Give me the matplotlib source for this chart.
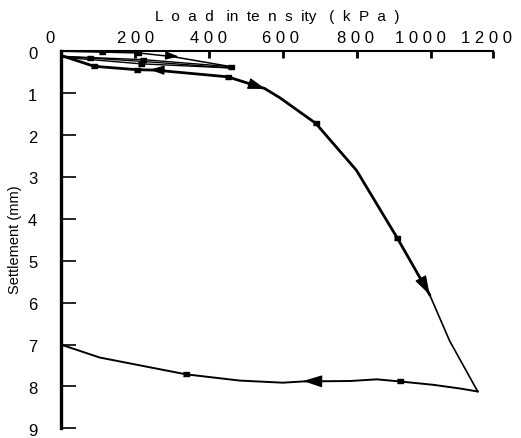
import matplotlib
matplotlib.use("Agg")
import matplotlib.pyplot as plt
import matplotlib.transforms as mtransforms

plt.rcParams['font.family'] = ['Liberation Sans', 'DejaVu Sans']

# ---- data (load kPa, settlement mm) ----
load_1 = [0, 110, 209, 303, 461]
sett_1 = [0.0, 0.02, 0.04, 0.13, 0.37]
unload_1 = [461, 222, 78, 0]
usett_1 = [0.37, 0.20, 0.15, 0.12]
load_2 = [0, 216, 461]
sett_2 = [0.12, 0.24, 0.40]
unload_2 = [461, 216, 0]
usett_2 = [0.40, 0.30, 0.14]
load_3 = [0, 90, 205, 254, 451, 551, 592, 654, 689, 799, 909, 997]
sett_3 = [0.10, 0.36, 0.44, 0.45, 0.61, 0.89, 1.11, 1.50, 1.72, 2.84, 4.45, 5.81]
load_4 = [997, 1051, 1127]
sett_4 = [5.81, 6.91, 8.12]
unload_f = [1127, 1080, 1006, 916, 854, 781, 655, 600, 484, 338, 105, 0]
usett_f = [8.12, 8.05, 7.96, 7.88, 7.83, 7.87, 7.88, 7.91, 7.86, 7.71, 7.31, 7.0]

marker_load = [110, 209, 78, 222, 90, 216, 205, 461, 451, 689, 909, 916, 338]
marker_sett = [0.02, 0.04, 0.15, 0.20, 0.36, 0.30, 0.44, 0.37, 0.61, 1.72, 4.45, 7.88, 7.71]

# arrows: (tail load, tail settlement) -> (tip load, tip settlement)
arrow_tail = [(280, 0.10), (280, 0.452), (515, 0.79), (975, 5.45), (720, 7.88)]
arrow_tip = [(318, 0.125), (240, 0.44), (553, 0.90), (997, 5.81), (655, 7.87)]

x_ticks = [0, 200, 400, 600, 800, 1000, 1168]
x_ticklabels = ["0", "2 0 0", "4 0 0", "6 0 0", "8 0 0", "1 0 0 0", "1 2 0 0"]
y_ticks = [0, 1, 2, 3, 4, 5, 6, 7, 8, 9]

fig = plt.figure(figsize=(5.21, 4.38), dpi=100)
ax = fig.add_axes([0.117, 0.022, 0.829, 0.861])

k = 'black'
ax.plot(load_1, sett_1, color=k, lw=1.1)
ax.plot(unload_1, usett_1, color=k, lw=1.0)
ax.plot(load_2, sett_2, color=k, lw=1.0)
ax.plot(unload_2, usett_2, color=k, lw=1.0)
ax.plot(load_3, sett_3, color=k, lw=2.0)
ax.plot(load_4, sett_4, color=k, lw=1.2)
ax.plot(unload_f, usett_f, color=k, lw=1.4)
rect = [(-1, -0.62), (1, -0.62), (1, 0.62), (-1, 0.62)]
ax.plot(marker_load, marker_sett, linestyle='none', marker=rect, color=k,
        markersize=5)

arrow_scale = [8, 9, 11, 12, 12]
for (tx, ty), (hx, hy), ms in zip(arrow_tail, arrow_tip, arrow_scale):
    ax.annotate('', xy=(hx, hy), xytext=(tx, ty),
                arrowprops=dict(arrowstyle='-|>,head_length=1.0,head_width=0.32',
                                mutation_scale=ms, color=k, lw=0.8,
                                shrinkA=0, shrinkB=0))

ax.set_xlim(0, 1168)
ax.set_ylim(9, 0)
ax.xaxis.tick_top()
ax.xaxis.set_label_position('top')
ax.set_xticks(x_ticks)
ax.set_xticklabels(x_ticklabels, fontsize=12)
ax.set_yticks(y_ticks)
ax.set_yticklabels([str(v) for v in y_ticks], fontsize=12)
ax.tick_params(axis='x', direction='in', length=5, width=2, pad=4)
ax.tick_params(axis='y', direction='in', length=11, width=1.2, pad=17)

# nudge x tick labels (pixels) to match the reference placement
label_shift_px = [-11, 1, 0, -2, -1, -10, -6]
for lab, dx in zip(ax.get_xticklabels(), label_shift_px):
    off = mtransforms.ScaledTranslation(dx / 100.0, 0, fig.dpi_scale_trans)
    lab.set_transform(lab.get_transform() + off)
# y tick labels sit a little below their ticks in the reference
for lab in ax.get_yticklabels():
    off = mtransforms.ScaledTranslation(0, -1.5 / 100.0, fig.dpi_scale_trans)
    lab.set_transform(lab.get_transform() + off)

ax.spines['right'].set_visible(False)
ax.spines['bottom'].set_visible(False)
ax.spines['left'].set_linewidth(2.4)
ax.spines['top'].set_linewidth(1.5)

ax.set_xlabel("L  o  a  d   in  te  n  s  ity   (  k  P  a  )", fontsize=11, labelpad=7)
ax.set_ylabel("Settlement (mm)", fontsize=10.5, labelpad=4)

fig.savefig("out.png", dpi=100)
